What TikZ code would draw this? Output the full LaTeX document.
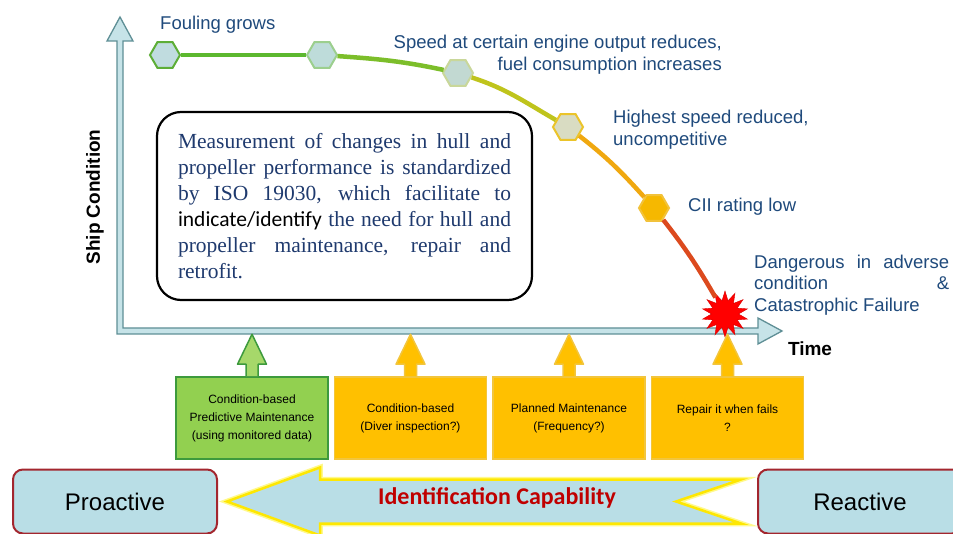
\documentclass[tikz,border=0pt]{standalone}
\usepackage{fontspec}
\setmainfont{Liberation Sans}
\newfontfamily\timesfont{Liberation Serif}
\newfontfamily\carlito{Carlito}
\usetikzlibrary{shapes,positioning}

\begin{document}
\begin{tikzpicture}[
    x=1pt, y=1pt,
    node distance=5pt,
    lbl/.style={
        text=labelblue,
        font=\fontsize{18.5}{21.5}\selectfont,
        inner sep=0pt
    },
    hexa/.style={
        regular polygon,
        regular polygon sides=6,
        minimum size=30pt,
        inner sep=0pt,
        line width=2pt
    },
    curve/.style={
        line width=4.5pt
    },
    axis/.style={
        fill=axisfill,
        draw=axisline,
        line width=1.3pt,
        line join=miter
    },
    infobox/.style={
        rectangle,
        draw=black,
        line width=2.2pt,
        rounded corners=24pt,
        text width=333pt,
        inner xsep=21pt,
        minimum height=188pt,
        align=justify,
        text=isoblue,
        font=\timesfont\fontsize{21.5}{26}\selectfont,
        execute at begin node={\tolerance=10000\hyphenpenalty=10000}
    },
    task/.style={
        rectangle,
        minimum width=152pt,
        minimum height=82pt,
        inner sep=2pt,
        line width=1.5pt,
        align=center,
        font=\fontsize{12}{18}\selectfont
    },
    approach/.style={
        rectangle,
        rounded corners=10pt,
        draw=boxred,
        line width=2pt,
        fill=paleblue,
        minimum width=204pt,
        minimum height=64pt,
        font=\fontsize{24}{24}\selectfont
    },
    uparr/.pic={
        \filldraw[line width=1.5pt, line join=round, #1]
            (-6,0) -- (-6,12) -- (-14.5,12) -- (0,42) -- (14.5,12) -- (6,12) -- (6,0);
    }
]

% Colour palette
\definecolor{axisfill}{HTML}{C6E3E8}
\definecolor{axisline}{HTML}{5F8F96}
\definecolor{labelblue}{HTML}{1F4A7C}
\definecolor{isoblue}{HTML}{1F3A6E}
\definecolor{greenbox}{HTML}{92D050}
\definecolor{greenlight}{HTML}{A6D86A}
\definecolor{greenedge}{HTML}{3D9A3D}
\definecolor{amber}{HTML}{FFC000}
\definecolor{amberedge}{HTML}{F2C53D}
\definecolor{paleblue}{HTML}{B9DEE6}
\definecolor{boxred}{HTML}{A3262E}
\definecolor{capred}{HTML}{C00000}
\definecolor{hexfillA}{HTML}{C0DCDF}\definecolor{hexedgeA}{HTML}{5DAE36}
\definecolor{hexfillB}{HTML}{BEDCDA}\definecolor{hexedgeB}{HTML}{9CCF8E}
\definecolor{hexfillC}{HTML}{C2D9D2}\definecolor{hexedgeC}{HTML}{C9D79A}
\definecolor{hexfillD}{HTML}{D9DCC2}\definecolor{hexedgeD}{HTML}{EBC42A}
\definecolor{hexfillE}{HTML}{F6B800}\definecolor{hexedgeE}{HTML}{F2C23A}
\definecolor{segA}{HTML}{5CB82E}
\definecolor{segB}{HTML}{7CBE2A}
\definecolor{segC}{HTML}{BFC41C}
\definecolor{segD}{HTML}{F0A810}
\definecolor{segE}{HTML}{DC4A1E}

\path[use as bounding box, fill=white] (0,0) rectangle (953,-534);

% Axes
\filldraw[axis] (120,-17) -- ++(13,-24) -- ++(-10,0) -- (123,-328) -- (758,-328)
    -- ++(0,10) -- (782,-331) -- ++(-24,-13) -- ++(0,10) -- (117,-334)
    -- (117,-41) -- ++(-10,0) -- cycle;
\node[font=\bfseries\fontsize{19}{19}\selectfont, rotate=90] (ylabel) at (95,-197) {Ship Condition};
\node[font=\bfseries\fontsize{19}{19}\selectfont] (xlabel) at (810,-349) {Time};

% Deterioration curve
\node[hexa, fill=hexfillA, draw=hexedgeA] (hex1) at (165,-55) {};
\node[hexa, fill=hexfillB, draw=hexedgeB] (hex2) at (322,-55) {};
\node[hexa, fill=hexfillC, draw=hexedgeC] (hex3) at (458,-73) {};
\node[hexa, fill=hexfillD, draw=hexedgeD] (hex4) at (568,-127) {};
\node[hexa, fill=hexfillE, draw=hexedgeE] (hex5) at (654,-208) {};
\node[star, star points=14, star point ratio=1.7, minimum size=46pt, inner sep=0pt,
      fill=red, draw=red!85!black] (fail) at (725,-314) {};

\draw[curve, segA] (hex1) to[out=0, in=180] (hex2);
\draw[curve, segB] (hex2) to[out=-4, in=168] (hex3);
\draw[curve, segC] (hex3) to[out=-18, in=150] (hex4);
\draw[curve, segD] (hex4) to[out=-38, in=132] (hex5);
\draw[curve, segE] (hex5) to[out=-52, in=120] (fail);

% Stage labels
\node[lbl, anchor=west] (fouling) at (160,-25) {Fouling grows};
\node[lbl, anchor=east, align=right] (speed) at (722,-54.5)
    {Speed at certain engine output reduces,\\fuel consumption increases};
\node[lbl, anchor=west, align=left] (highest) at (613,-129.5)
    {Highest speed reduced,\\uncompetitive};
\node[lbl, anchor=west] (cii) at (688,-207) {CII rating low};
\node[lbl, anchor=west, text width=195pt, align=justify,
      execute at begin node={\tolerance=10000\hyphenpenalty=10000}] (danger) at (754,-285)
    {Dangerous in adverse\linebreak condition \&\linebreak Catastrophic Failure};

% ISO 19030 note
\node[infobox] (iso) at (344.5,-206)
    {Measurement of changes in hull and\linebreak
     propeller performance is standardized\linebreak
     by ISO 19030, which facilitate to\linebreak
     {\carlito\color{black}indicate/identify} the need for hull and\linebreak
     propeller maintenance, repair and\linebreak
     retrofit.};

% Maintenance strategies
\node[task, fill=greenbox, draw=greenedge] (predictive) at (252,-418)
    {Condition-based\\Predictive Maintenance\\(using monitored data)};
\node[task, fill=amber, draw=amberedge, right=of predictive] (diver)
    {Condition-based\\(Diver inspection?)};
\node[task, fill=amber, draw=amberedge, right=of diver] (planned)
    {Planned Maintenance\\(Frequency?)};
\node[task, fill=amber, draw=amberedge, right=of planned] (repair)
    {Repair it when fails\\?};

\pic at (predictive.north) {uparr={fill=greenlight, draw=greenedge}};
\pic at (diver.north) {uparr={fill=amber, draw=amberedge}};
\pic at (planned.north) {uparr={fill=amber, draw=amberedge}};
\pic at (repair.north) {uparr={fill=amber, draw=amberedge}};

% Proactive vs reactive
\node[approach] (pro) at (115,-501.5) {Proactive};
\node[approach] (re) at (860,-501.5) {Reactive};

\coordinate (captip) at ([xshift=9pt]pro.east);
\filldraw[fill=paleblue, draw=yellow!90!orange, line width=2.5pt, line join=miter,
          preaction={draw=yellow!45, line width=5.5pt}]
    (captip) -- ++(93,34) -- ++(0,-12) -- ++(421,0) -- ++(-65,-22)
    -- ++(65,-22) -- ++(-421,0) -- ++(0,-12) -- cycle;
\node[font=\carlito\bfseries\fontsize{24}{24}\selectfont, text=capred] (idcap) at (497,-498)
    {Identification Capability};

\end{tikzpicture}
\end{document}
